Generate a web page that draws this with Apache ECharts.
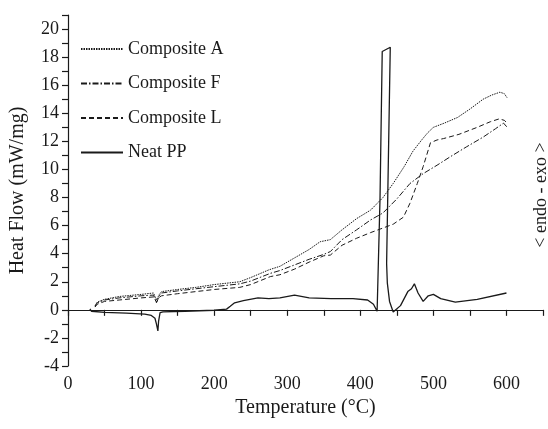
<!DOCTYPE html>
<html>
<head>
<meta charset="utf-8">
<script src="https://cdn.jsdelivr.net/npm/echarts@6/dist/echarts.min.js"></script>
<style>
  html, body { margin: 0; padding: 0; background: #fff; }
  #chart { width: 548px; height: 429px; }
</style>
</head>
<body>
<div id="chart"></div>
<script>
// [temperature °C, heat flow mW/mg]
const compositeA = [
    [37, 0.3], [40, 0.55], [50, 0.75], [70, 0.95], [100, 1.1], [117, 1.2], [121, 0.7], [123, 0.6],
    [125, 1.1], [128, 1.3], [150, 1.45], [175, 1.6], [200, 1.8], [235, 2.0], [250, 2.3], [275, 2.85],
    [290, 3.1], [310, 3.7], [330, 4.3], [345, 4.85], [359, 5.0], [375, 5.7], [395, 6.5], [414, 7.1],
    [431, 8.0], [445, 9.0], [460, 10.2], [472, 11.3], [484, 12.1], [492, 12.6], [500, 13.0], [515, 13.3],
    [533, 13.7], [550, 14.3], [568, 15.0], [580, 15.3], [591, 15.5], [597, 15.4], [601, 15.1]
];
const compositeF = [
    [37, 0.25], [40, 0.5], [50, 0.7], [70, 0.85], [100, 1.0], [117, 1.05], [121, 0.5], [123, 0.4],
    [125, 1.0], [128, 1.2], [150, 1.35], [175, 1.5], [200, 1.65], [235, 1.85], [250, 2.05], [277, 2.6],
    [290, 2.8], [310, 3.2], [330, 3.6], [350, 3.95], [359, 4.15], [375, 5.0], [395, 5.7], [414, 6.4],
    [431, 6.9], [450, 7.9], [468, 9.0], [486, 9.7], [505, 10.3], [523, 10.9], [545, 11.6], [568, 12.3],
    [585, 12.9], [596, 13.3], [601, 13.0]
];
const compositeL = [
    [37, 0.2], [40, 0.4], [50, 0.6], [70, 0.7], [100, 0.85], [117, 0.92], [121, 0.55], [123, 0.5],
    [125, 0.9], [128, 1.0], [150, 1.15], [175, 1.3], [200, 1.45], [235, 1.6], [250, 1.8], [277, 2.37],
    [290, 2.5], [310, 2.9], [330, 3.4], [350, 3.85], [359, 3.9], [375, 4.6], [395, 5.1], [414, 5.5],
    [427, 5.75], [445, 6.1], [459, 6.6], [468, 7.6], [478, 9.0], [486, 10.2], [496, 11.9], [505, 12.1],
    [514, 12.2], [535, 12.5], [560, 13.0], [578, 13.4], [590, 13.6], [597, 13.5], [601, 13.3]
];
const neatPP = [
    [30, 0.07], [32, -0.1], [50, -0.18], [80, -0.24], [105, -0.3], [114, -0.4], [119, -0.6], [121, -1.0],
    [123, -1.5], [124, -0.8], [126, -0.2], [130, -0.15], [160, -0.1], [200, -0.03], [217, 0.05], [222, 0.25],
    [228, 0.5], [240, 0.65], [260, 0.85], [275, 0.8], [290, 0.85], [310, 1.05], [330, 0.85], [360, 0.8],
    [390, 0.8], [410, 0.7], [418, 0.4], [423, -0.1], [427, 8], [430, 18.4], [441, 18.7], [436, 3.3],
    [437, 1.9], [440, 0.6], [445, -0.15], [455, 0.3], [465, 1.3], [470, 1.5], [474, 1.85],
    [479, 1.2], [486, 0.6], [493, 1.0], [500, 1.1], [510, 0.8], [530, 0.55], [560, 0.75], [600, 1.2]
];
const seriesNames = ['Composite A', 'Composite F', 'Composite L', 'Neat PP'];

const font = '"Liberation Serif", "Times New Roman", serif';
const ink = '#1a1a1a';

const chart = echarts.init(document.getElementById('chart'));

const line = (name, data, type, width) => ({
    name: name,
    type: 'line',
    data: data,
    symbol: 'none',
    color: ink,
    animation: false,
    lineStyle: { color: ink, width: width, type: type }
});

chart.setOption({
    backgroundColor: '#fff',
    animation: false,
    grid: { left: 68, right: 5, top: 15, bottom: 63 },
    legend: {
        orient: 'vertical',
        left: 75,
        top: 35,
        itemWidth: 42,
        itemHeight: 10,
        itemGap: 16.5,
        itemStyle: { opacity: 0 },
        textStyle: { fontFamily: font, fontSize: 18, color: ink },
        data: seriesNames
    },
    xAxis: {
        type: 'value',
        min: 0,
        max: 650,
        interval: 50,
        name: 'Temperature (°C)',
        nameLocation: 'middle',
        nameGap: 31,
        nameTextStyle: { fontFamily: font, fontSize: 20, color: ink },
        axisLine: { lineStyle: { color: ink, width: 1.2 } },
        axisTick: { show: true, inside: false, length: 6, lineStyle: { color: ink, width: 1.2 } },
        axisLabel: {
            fontFamily: font, fontSize: 18, color: ink, margin: 9,
            formatter: v => (v % 100 === 0 && v <= 600 ? String(v) : '')
        },
        splitLine: { show: false }
    },
    yAxis: {
        type: 'value',
        min: -4,
        max: 21,
        interval: 1,
        name: 'Heat Flow (mW/mg)',
        nameLocation: 'middle',
        nameGap: 40,
        nameTextStyle: { fontFamily: font, fontSize: 20, color: ink },
        axisLine: { show: true, lineStyle: { color: ink, width: 1.2 } },
        axisTick: { show: true, inside: false, length: 6, lineStyle: { color: ink, width: 1.2 } },
        axisLabel: {
            fontFamily: font, fontSize: 18, color: ink, margin: 9,
            formatter: v => (v % 2 === 0 && v <= 20 ? String(v) : '')
        },
        splitLine: { show: false }
    },
    graphic: [{
        type: 'text',
        x: 541,
        y: 195,
        rotation: Math.PI / 2,
        style: {
            text: '< endo - exo >',
            font: '18px ' + font,
            fill: ink,
            textAlign: 'center',
            textVerticalAlign: 'middle'
        }
    }],
    series: [
        line('Composite A', compositeA, [1.5, 1], 1),
        line('Composite F', compositeF, [6, 2, 1.5, 2], 1),
        line('Composite L', compositeL, [5, 3], 1),
        line('Neat PP', neatPP, 'solid', 1.3)
    ]
});
</script>
</body>
</html>
